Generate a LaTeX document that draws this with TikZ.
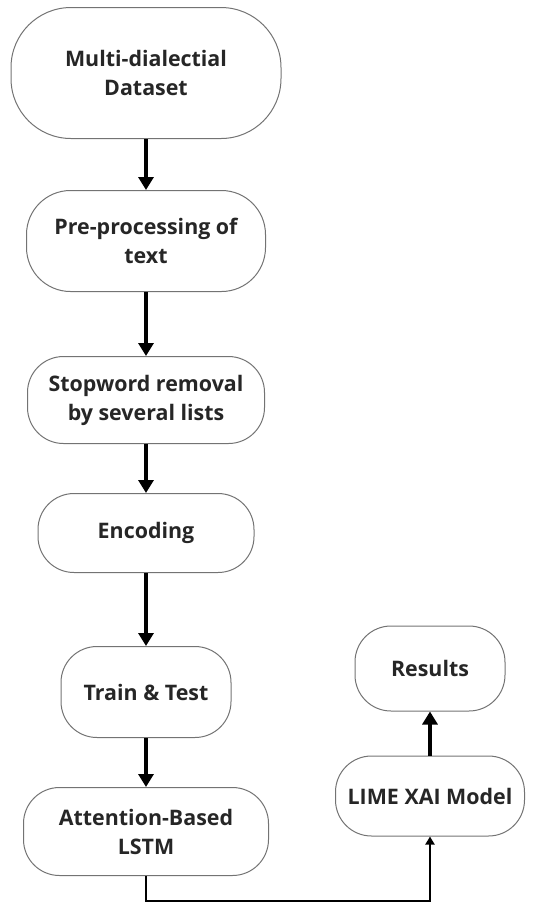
\documentclass[tikz,border=0pt]{standalone}
\usepackage{fontspec}
\setmainfont{Open Sans}
\usetikzlibrary{arrows.meta,positioning}

\begin{document}
\begin{tikzpicture}[
    x=0.5pt, y=-0.5pt,
    node distance=25pt,
    stage/.style={draw=black!55, line width=0.5pt, rounded corners=18pt,
      align=center, inner sep=2pt, text=black!85,
      font=\fontsize{10.7}{14.5}\selectfont\bfseries},
    arrow/.style={-{Triangle[length=6.5pt,width=7.5pt]}, line width=1.6pt},
    link/.style={-{Triangle[length=4pt,width=4.5pt]}, line width=0.9pt}
  ]
    \useasboundingbox (0,0) rectangle (545,902);
    \node[stage, minimum width=135pt, minimum height=65.5pt, rounded corners=30pt] (dataset) at (146,73) {Multi-dialectial\\Dataset};
    \node[stage, minimum width=119.5pt, minimum height=50.5pt, rounded corners=22pt, below=25.5pt of dataset] (preproc) {Pre-processing of\\text};
    \node[stage, minimum width=118.5pt, minimum height=43.5pt, below=32pt of preproc] (stopword) {Stopword removal\\by several lists};
    \node[stage, minimum width=108pt, minimum height=39.5pt, below=24.5pt of stopword] (encoding) {Encoding};
    \node[stage, minimum width=85pt, minimum height=45.5pt, below=36.5pt of encoding] (traintest) {Train \& Test};
    \node[stage, minimum width=122.5pt, minimum height=44pt, below=24.5pt of traintest] (lstm) {Attention-Based\\LSTM};
    \node[stage, minimum width=94.5pt, minimum height=40pt] (lime) at (430,796) {LIME XAI Model};
    \node[stage, minimum width=75pt, minimum height=42.5pt, above=22pt of lime] (results) {Results};
    \coordinate[below=12.5pt of lstm.south] (turn);
    \draw[arrow] (dataset) -- (preproc);
    \draw[arrow] (preproc) -- (stopword);
    \draw[arrow] (stopword) -- (encoding);
    \draw[arrow] (encoding) -- (traintest);
    \draw[arrow] (traintest) -- (lstm);
    \draw[link] (lstm) -- (turn) -| (lime);
    \draw[arrow] (lime) -- (results);
  \end{tikzpicture}
\end{document}
